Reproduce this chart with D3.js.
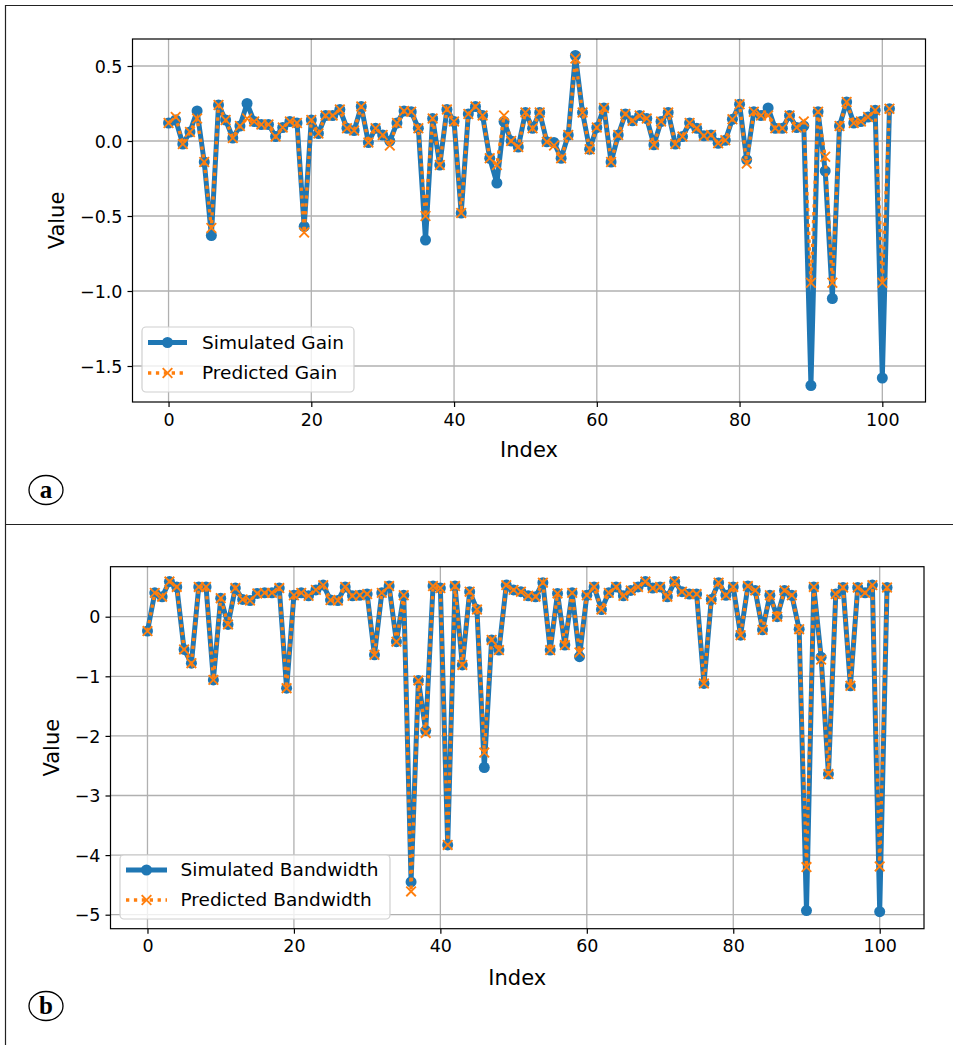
<!DOCTYPE html>
<html><head><meta charset="utf-8">
<script src="https://cdn.jsdelivr.net/npm/d3@7/dist/d3.min.js"></script>
<style>html,body{margin:0;padding:0;background:#fff;}svg{display:block;}</style>
</head><body>
<svg id="c" width="953" height="1045" style="font-family:'DejaVu Sans',sans-serif"></svg>
<script>
const simGain = [0.12,0.14,-0.02,0.06,0.20,-0.14,-0.63,0.24,0.14,0.02,0.10,0.25,0.13,0.11,0.11,0.03,0.09,0.13,0.12,-0.57,0.14,0.05,0.17,0.17,0.21,0.085,0.07,0.23,-0.01,0.085,0.04,0.00,0.12,0.20,0.195,0.085,-0.66,0.15,-0.16,0.21,0.13,-0.48,0.18,0.23,0.17,-0.115,-0.28,0.13,0.00,-0.04,0.19,0.085,0.19,-0.005,-0.01,-0.115,0.04,0.57,0.19,-0.055,0.09,0.22,-0.14,0.04,0.18,0.135,0.17,0.15,-0.025,0.13,0.19,-0.02,0.03,0.12,0.085,0.035,0.04,-0.015,0.005,0.145,0.245,-0.125,0.195,0.17,0.22,0.085,0.085,0.17,0.09,0.10,-1.63,0.195,-0.20,-1.05,0.10,0.26,0.12,0.13,0.16,0.205,-1.58,0.215];
const predGain = [0.12,0.16,-0.02,0.06,0.15,-0.14,-0.58,0.24,0.14,0.02,0.10,0.15,0.13,0.11,0.11,0.03,0.09,0.13,0.12,-0.61,0.14,0.05,0.17,0.17,0.21,0.085,0.07,0.23,-0.01,0.085,0.04,-0.03,0.12,0.20,0.195,0.085,-0.50,0.15,-0.16,0.21,0.13,-0.48,0.18,0.23,0.17,-0.115,-0.16,0.17,0.00,-0.04,0.19,0.085,0.19,-0.005,-0.03,-0.115,0.04,0.55,0.19,-0.055,0.09,0.22,-0.14,0.04,0.18,0.135,0.17,0.15,-0.025,0.13,0.19,-0.02,0.03,0.12,0.085,0.035,0.04,-0.015,0.005,0.145,0.245,-0.15,0.195,0.17,0.17,0.085,0.085,0.17,0.09,0.13,-0.945,0.195,-0.105,-0.945,0.10,0.26,0.12,0.13,0.16,0.205,-0.945,0.215];
const simBW = [-0.24,0.40,0.335,0.59,0.50,-0.55,-0.78,0.50,0.50,-1.06,0.31,-0.13,0.48,0.29,0.27,0.39,0.40,0.40,0.48,-1.20,0.36,0.40,0.35,0.45,0.53,0.28,0.27,0.50,0.35,0.36,0.38,-0.64,0.40,0.515,-0.42,0.36,-4.45,-1.07,-1.91,0.515,0.48,-3.83,0.515,-0.81,0.42,0.12,-2.53,-0.39,-0.56,0.53,0.45,0.42,0.35,0.335,0.57,-0.56,0.39,-0.475,0.40,-0.67,0.36,0.50,0.12,0.40,0.50,0.35,0.44,0.50,0.59,0.48,0.50,0.335,0.59,0.42,0.38,0.38,-1.12,0.29,0.57,0.36,0.50,-0.31,0.515,0.44,-0.22,0.36,0.0,0.44,0.36,-0.21,-4.93,0.50,-0.68,-2.64,0.38,0.49,-1.16,0.49,0.40,0.53,-4.95,0.49];
const predBW = [-0.24,0.40,0.335,0.59,0.50,-0.55,-0.78,0.50,0.50,-1.06,0.31,-0.13,0.48,0.29,0.27,0.39,0.40,0.40,0.48,-1.20,0.36,0.40,0.35,0.45,0.53,0.28,0.27,0.50,0.35,0.36,0.38,-0.64,0.40,0.515,-0.42,0.36,-4.61,-1.07,-1.95,0.515,0.48,-3.83,0.515,-0.81,0.42,0.12,-2.28,-0.39,-0.56,0.53,0.45,0.42,0.35,0.335,0.57,-0.56,0.39,-0.475,0.40,-0.60,0.36,0.50,0.12,0.40,0.50,0.35,0.44,0.50,0.59,0.48,0.50,0.335,0.59,0.42,0.38,0.38,-1.12,0.29,0.57,0.36,0.50,-0.31,0.515,0.44,-0.22,0.36,0.0,0.44,0.36,-0.21,-4.20,0.50,-0.72,-2.64,0.38,0.49,-1.16,0.49,0.40,0.53,-4.19,0.49];
const xTicks = [0,20,40,60,80,100];
const gainTicks = [0.5,0.0,-0.5,-1.0,-1.5];
const bwTicks = [0,-1,-2,-3,-4,-5];
const gainLegend = ["Simulated Gain","Predicted Gain"];
const bwLegend = ["Simulated Bandwidth","Predicted Bandwidth"];

const BLUE = "#1f77b4", ORANGE = "#ff7f0e";
const svg = d3.select("#c");
const fmtMinus = s => s.replace("-", "\u2212");

// panel frames
svg.append("line").attr("x1",5.5).attr("x2",5.5).attr("y1",5).attr("y2",1045).attr("stroke","#222").attr("stroke-width",1.2);
svg.append("line").attr("x1",5).attr("x2",953).attr("y1",5.5).attr("y2",5.5).attr("stroke","#222").attr("stroke-width",1.2);
svg.append("line").attr("x1",5).attr("x2",953).attr("y1",524.5).attr("y2",524.5).attr("stroke","#222").attr("stroke-width",1.2);

function panel(opt){
  const g = svg.append("g");
  const x = d3.scaleLinear().domain([-5.05,106.05]).range([opt.left,opt.right]);
  const y = d3.scaleLinear().domain(opt.ydom).range([opt.bottom,opt.top]);
  // grid
  g.append("g").selectAll("line").data(xTicks).join("line")
    .attr("x1",d=>x(d)).attr("x2",d=>x(d)).attr("y1",opt.top).attr("y2",opt.bottom)
    .attr("stroke","#b0b0b0").attr("stroke-width",1.3);
  g.append("g").selectAll("line").data(opt.yticks).join("line")
    .attr("y1",d=>y(d)).attr("y2",d=>y(d)).attr("x1",opt.left).attr("x2",opt.right)
    .attr("stroke","#b0b0b0").attr("stroke-width",1.3);
  // axes
  const ax = g.append("g").attr("transform",`translate(0,${opt.bottom})`)
    .call(d3.axisBottom(x).tickValues(xTicks).tickSize(5).tickPadding(5).tickFormat(d3.format("d")));
  const ay = g.append("g").attr("transform",`translate(${opt.left},0)`)
    .call(d3.axisLeft(y).tickValues(opt.yticks).tickSize(5).tickPadding(5).tickFormat(d=>fmtMinus(d3.format(opt.yfmt)(d))));
  [ax,ay].forEach(a=>{
    a.attr("font-family",null).attr("font-size",null);
    a.select(".domain").remove();
    a.selectAll("line").attr("stroke","#000").attr("stroke-width",1.2);
    a.selectAll("text").style("font-size","17.5px").style("font-family","'DejaVu Sans',sans-serif").attr("fill","#000");
  });
  ay.selectAll("text").attr("dy","0.35em");
  ax.selectAll("text").attr("dy","0.78em");
  // frame
  g.append("rect").attr("x",opt.left).attr("y",opt.top).attr("width",opt.right-opt.left).attr("height",opt.bottom-opt.top)
    .attr("fill","none").attr("stroke","#000").attr("stroke-width",1.2);
  // clip
  const cid = "clip"+opt.id;
  svg.append("clipPath").attr("id",cid).append("rect").attr("x",opt.left).attr("y",opt.top).attr("width",opt.right-opt.left).attr("height",opt.bottom-opt.top);
  const pg = g.append("g").attr("clip-path",`url(#${cid})`);
  const line = d3.line().x((d,i)=>x(i)).y(d=>y(d));
  pg.append("path").datum(opt.sim).attr("d",line).attr("fill","none").attr("stroke",BLUE).attr("stroke-width",5).attr("stroke-linejoin","round");
  pg.append("g").selectAll("circle").data(opt.sim).join("circle").attr("cx",(d,i)=>x(i)).attr("cy",d=>y(d)).attr("r",5.5).attr("fill",BLUE);
  pg.append("path").datum(opt.pred).attr("d",line).attr("fill","none").attr("stroke",ORANGE).attr("stroke-width",3.3).attr("stroke-dasharray","3.3,4.6");
  const xs = 4.8;
  pg.append("g").selectAll("path").data(opt.pred).join("path")
    .attr("d",(d,i)=>{const cx=x(i),cy=y(d);return `M${cx-xs},${cy-xs}L${cx+xs},${cy+xs}M${cx-xs},${cy+xs}L${cx+xs},${cy-xs}`;})
    .attr("stroke",ORANGE).attr("stroke-width",1.9).attr("fill","none");
  // labels
  g.append("text").attr("x",(opt.left+opt.right)/2).attr("y",opt.xlabY).attr("text-anchor","middle").style("font-size","21px").text("Index");
  g.append("text").attr("transform",`translate(${opt.ylabX},${(opt.top+opt.bottom)/2}) rotate(-90)`).attr("text-anchor","middle").attr("dy","0.35em").style("font-size","21px").text("Value");
  // legend
  const L = opt.leg;
  g.append("rect").attr("x",L.x).attr("y",L.y).attr("width",L.w).attr("height",L.h).attr("rx",4)
    .attr("fill","#fff").attr("fill-opacity",0.8).attr("stroke","#d0d0d0").attr("stroke-width",1.2);
  const r1 = L.y+L.r1, r2 = L.y+L.r2;
  g.append("line").attr("x1",L.lx1).attr("x2",L.lx2).attr("y1",r1).attr("y2",r1).attr("stroke",BLUE).attr("stroke-width",5);
  g.append("circle").attr("cx",(L.lx1+L.lx2)/2).attr("cy",r1).attr("r",5.5).attr("fill",BLUE);
  g.append("line").attr("x1",L.lx1).attr("x2",L.lx2).attr("y1",r2).attr("y2",r2).attr("stroke",ORANGE).attr("stroke-width",3.3).attr("stroke-dasharray","3.3,4.6");
  const mx=(L.lx1+L.lx2)/2;
  g.append("path").attr("d",`M${mx-xs},${r2-xs}L${mx+xs},${r2+xs}M${mx-xs},${r2+xs}L${mx+xs},${r2-xs}`).attr("stroke",ORANGE).attr("stroke-width",1.9);
  g.append("text").attr("x",L.tx).attr("y",r1).attr("dy","0.35em").style("font-size","18.5px").text(opt.legend[0]);
  g.append("text").attr("x",L.tx).attr("y",r2).attr("dy","0.35em").style("font-size","18.5px").text(opt.legend[1]);
  // panel letter
  g.append("ellipse").attr("cx",46).attr("cy",opt.letterY).attr("rx",17).attr("ry",14.5).attr("fill","#fff").attr("stroke","#000").attr("stroke-width",1.3);
  g.append("text").attr("x",46).attr("y",opt.letterY).attr("dy","0.33em").attr("text-anchor","middle")
    .style("font-family","'Liberation Serif','DejaVu Serif',serif").style("font-weight","bold").style("font-size","25px").text(opt.letter);
}

panel({id:"a", left:132.5, right:925.5, top:39, bottom:402, ydom:[-1.74,0.68], yticks:gainTicks, yfmt:".1f",
  sim:simGain, pred:predGain, legend:gainLegend, xlabY:457, ylabX:57,
  leg:{x:142,y:327,w:212,h:65,r1:15.5,r2:46,lx1:148,lx2:187,tx:202}, letter:"a", letterY:490});
panel({id:"b", left:110.5, right:924, top:566.7, bottom:928.7, ydom:[-5.235,0.839], yticks:bwTicks, yfmt:"d",
  sim:simBW, pred:predBW, legend:bwLegend, xlabY:985, ylabX:52,
  leg:{x:120,y:855,w:270,h:64,r1:15,r2:45,lx1:126,lx2:167,tx:180.5}, letter:"b", letterY:1006});
</script>
</body></html>
